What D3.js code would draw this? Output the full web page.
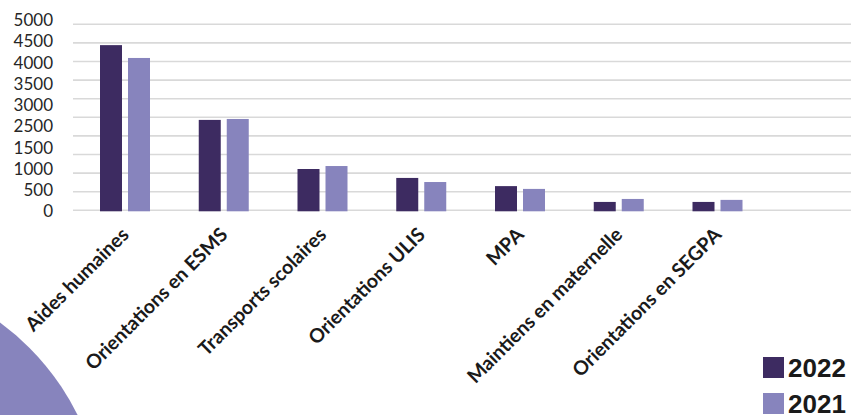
<!DOCTYPE html>
<html>
<head>
<meta charset="utf-8">
<script src="https://cdn.jsdelivr.net/npm/d3@7"></script>
<style>
  body { margin: 0; background: #fff; }
  svg { display: block; }
</style>
</head>
<body>
<div class="canvas"></div>
<script>
const categories = ['Aides humaines', 'Orientations en ESMS', 'Transports scolaires', 'Orientations ULIS', 'MPA', 'Maintiens en maternelle', 'Orientations en SEGPA'];
const years = ['2022', '2021'];
const values2022 = [4440, 2430, 1110, 870, 650, 225, 225];
const values2021 = [4095, 2455, 1190, 760, 575, 305, 280];
const gridValues = [0, 500, 1000, 1500, 2000, 2500, 3000, 3500, 4000, 4500, 5000];
// the labels as printed on the original (2000 is missing there)
const yTickLabels = ['5000', '4500', '4000', '3500', '3000', '2500', '1500', '1000', '500', '0'];

const colors = { '2022': '#3d2b61', '2021': '#8784bd' };
const width = 851;
const height = 415;

const svg = d3.select('.canvas')
  .append('svg')
  .attr('width', width)
  .attr('height', height);

// decorative disc in the bottom-left corner
svg.append('circle')
  .attr('cx', -151)
  .attr('cy', 528)
  .attr('r', 255)
  .attr('fill', '#8784bd');

const step = 98.75;
const x0 = d3.scaleBand()
  .domain(categories)
  .range([75.6, 75.6 + step * categories.length]);
const x1 = d3.scaleBand()
  .domain(years)
  .range([24.4, 74.4])
  .paddingInner(6 / 28);
const y = d3.scaleLinear().domain([0, 5000]).range([210.3, 24.3]);

const grid = svg.append('g').attr('class', 'grid');
grid.selectAll('line')
  .data(gridValues)
  .enter().append('line')
  .attr('x1', 73)
  .attr('x2', width)
  .attr('y1', d => y(d))
  .attr('y2', d => y(d))
  .attr('stroke', '#d9d9d9')
  .attr('stroke-width', 1.6);

// y labels: evenly spread, not on the grid
const yLabel = d3.scalePoint().domain(yTickLabels).range([20, 211.5]);
const yAxisGroup = svg.append('g')
  .attr('transform', 'translate(53, 0)')
  .call(d3.axisLeft(yLabel).tickSize(0).tickPadding(0));
yAxisGroup.select('.domain').remove();
yAxisGroup.selectAll('text')
  .attr('font-family', 'Lato')
  .attr('font-size', 17)
  .attr('fill', '#262626');

const rows = categories.map((c, i) => ({ category: c, '2022': values2022[i], '2021': values2021[i] }));

const groups = svg.append('g').selectAll('g')
  .data(rows)
  .enter().append('g')
  .attr('transform', d => `translate(${x0(d.category)}, 0)`);

groups.selectAll('rect')
  .data(d => years.map(k => ({ key: k, value: d[k] })))
  .enter().append('rect')
  .attr('x', d => x1(d.key))
  .attr('width', x1.bandwidth())
  .attr('y', d => y(d.value))
  .attr('height', d => y(0) - y(d.value) + 1)
  .attr('fill', d => colors[d.key]);

const xAxisGroup = svg.append('g')
  .attr('transform', 'translate(0, 236)')
  .call(d3.axisBottom(x0).tickSize(0).tickPadding(0));
xAxisGroup.select('.domain').remove();
xAxisGroup.selectAll('text')
  .attr('font-family', 'Lato')
  .attr('font-weight', 'bold')
  .attr('font-size', 19.5)
  .attr('fill', '#1a1a1a')
  .attr('dy', 0)
  .attr('text-anchor', 'end')
  .attr('transform', 'translate(5, 0) rotate(-45)');

const legend = svg.append('g').attr('transform', 'translate(763, 357)');
const legendItems = legend.selectAll('g')
  .data(years)
  .enter().append('g')
  .attr('transform', (d, i) => `translate(0, ${i * 36})`);
legendItems.append('rect')
  .attr('width', 21)
  .attr('height', 21)
  .attr('fill', d => colors[d]);
legendItems.append('text')
  .attr('x', 25)
  .attr('y', 20)
  .attr('font-family', 'Liberation Sans')
  .attr('font-weight', 'bold')
  .attr('font-size', 26)
  .attr('fill', '#1a1a1a')
  .text(d => d);
</script>
</body>
</html>
